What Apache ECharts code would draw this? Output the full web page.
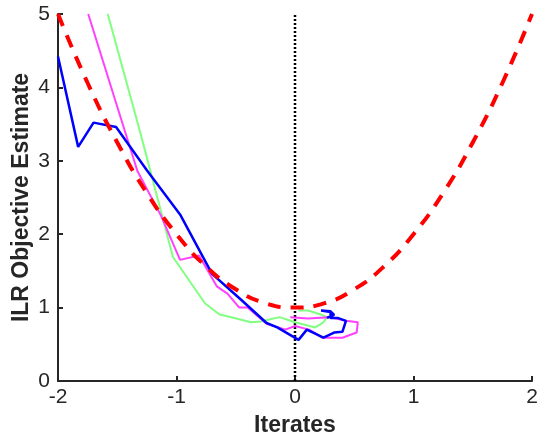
<!DOCTYPE html>
<html>
<head>
<meta charset="utf-8">
<script src="https://cdn.jsdelivr.net/npm/echarts@6/dist/echarts.min.js"></script>
<style>
  html, body { margin: 0; padding: 0; background: #fff; }
  #chart { width: 538px; height: 437px; }
</style>
</head>
<body>
<div id="chart"></div>
<script>
// iterate paths, [x, estimate]
var greenPath = [[-1.58,5.0],[-1.30,3.35],[-1.03,1.69],[-0.76,1.06],[-0.64,0.91],[-0.37,0.80],[-0.29,0.81],
  [-0.13,0.87],[0.00,0.80],[0.17,0.73],[0.24,0.80],[0.27,0.87],[0.21,0.91],[0.11,0.96],[0.03,0.96]];
var magentaPath = [[-1.745,5.0],[-1.33,2.86],[-1.13,2.25],[-0.97,1.65],[-0.81,1.71],[-0.66,1.29],[-0.57,1.19],
  [-0.47,1.00],[-0.40,1.00],[-0.24,0.78],[-0.08,0.70],[0.00,0.75],[0.12,0.70],[0.23,0.59],[0.40,0.59],
  [0.52,0.66],[0.53,0.80],[0.43,0.82],[0.29,0.87],[0.11,0.85],[-0.04,0.87]];
var bluePath = [[-2.00,4.42],[-1.83,3.19],[-1.70,3.52],[-1.51,3.46],[-1.25,2.87],[-0.97,2.27],[-0.70,1.46],
  [-0.45,1.10],[-0.24,0.79],[-0.15,0.73],[0.03,0.56],[0.10,0.70],[0.24,0.59],[0.33,0.66],[0.40,0.67],
  [0.43,0.82],[0.36,0.86],[0.30,0.86],[0.30,0.94],[0.22,0.96],[0.30,0.95],[0.33,0.90],[0.27,0.86]];
// true objective (red dashed)
var objX = [-2,-1.75,-1.5,-1.25,-1,-0.75,-0.5,-0.25,0,0.25,0.5,0.75,1,1.25,1.5,1.75,2];
var objY = [5,4.06,3.25,2.56,2,1.56,1.25,1.06,1,1.06,1.25,1.56,2,2.56,3.25,4.06,5];
var markerX = 0;
var yRange = [0, 5];

var axisColor = '#262626';
var chart = echarts.init(document.getElementById('chart'));

chart.setOption({
  animation: false,
  grid: { left: 58, right: 6, top: 14, bottom: 56, containLabel: false, outerBoundsMode: 'none' },
  xAxis: {
    type: 'value', min: -2, max: 2, interval: 1,
    name: 'Iterates', nameLocation: 'middle', nameGap: 33,
    nameTextStyle: { fontFamily: 'Liberation Sans', fontSize: 23, fontWeight: 'bold', color: axisColor },
    axisLine: { onZero: false, lineStyle: { color: axisColor, width: 2 } },
    axisTick: { inside: true, length: 5, lineStyle: { color: axisColor, width: 2 } },
    axisLabel: { fontFamily: 'Liberation Sans', fontSize: 21, color: axisColor, margin: 6 },
    splitLine: { show: false }
  },
  yAxis: {
    type: 'value', min: 0, max: 5, interval: 1,
    name: 'ILR Objective Estimate', nameLocation: 'middle', nameGap: 25, nameMoveOverlap: false,
    nameTextStyle: { fontFamily: 'Liberation Sans', fontSize: 23, fontWeight: 'bold', color: axisColor },
    axisLine: { onZero: false, lineStyle: { color: axisColor, width: 2 } },
    axisTick: { inside: true, length: 5, lineStyle: { color: axisColor, width: 2 } },
    axisLabel: { fontFamily: 'Liberation Sans', fontSize: 21, color: axisColor, margin: 8 },
    splitLine: { show: false }
  },
  series: [
    {
      type: 'line', data: [[markerX, yRange[0]], [markerX, yRange[1]]], symbol: 'none',
      lineStyle: { color: '#000', width: 2.5, type: [2, 2] }
    },
    {
      type: 'line', data: greenPath, symbol: 'none',
      lineStyle: { color: '#80FF80', width: 2 }
    },
    {
      type: 'line', data: magentaPath, symbol: 'none',
      lineStyle: { color: '#FF40FF', width: 2 }
    },
    {
      type: 'line', data: bluePath, symbol: 'none',
      lineStyle: { color: '#0000FF', width: 2.5 }
    },
    {
      type: 'line', data: objX.map(function (x, i) { return [x, objY[i]]; }), symbol: 'none', smooth: true,
      lineStyle: { color: '#FF0000', width: 4, type: [13, 10] }
    }
  ]
});
</script>
</body>
</html>
